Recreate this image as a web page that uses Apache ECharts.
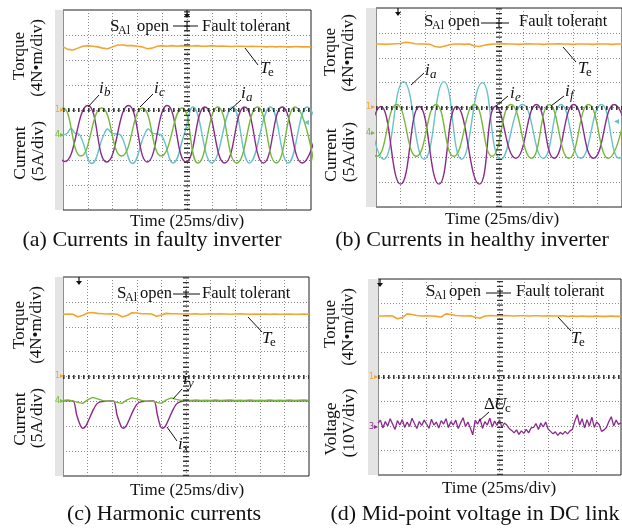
<!DOCTYPE html>
<html>
<head>
<meta charset="utf-8">
<script src="https://cdn.jsdelivr.net/npm/echarts@6/dist/echarts.min.js"></script>
<style>
html,body{margin:0;padding:0;background:#fff;}
#chart{width:622px;height:528px;}
</style>
</head>
<body>
<div id="chart"></div>
<script>
// ---------- scope settings (per division) ----------
const TORQUE_DIV = 4;    // N·m/div
const CURRENT_DIV = 5;   // A/div
const VOLT_DIV = 10;     // V/div
const torqueRef = 0;     // channel 1 ground, div from centre
const currentRef = -1;   // channel 4 ground
const voltRef = -2;      // channel 3 ground
const torqueStep = 5;    // ms between torque samples
const iyStep = 5;
const voltStep = 2.5;

// ---------- (a) faulty inverter ----------
const torqueA = [10.1,9.7,9.6,9.9,10.2,10.3,10.2,10.1,9.9,9.8,
  10.1,10.4,10.4,10.3,10.3,10.2,10.1,9.8,9.9,10.2,
  10.3,10.2,10.3,10.2,10.3,10.2,10.25,10.3,10.2,10.2,
  10.3,10.2,10.25,10.2,10.15,10.2,10.2,10.15,10.2,10.15,
  10.15,10.1,10.15,10.1,10.15,10.1,10.1,10.15,10.1,10.1,10.1];
const faultyIb = [[-18,5.9],[2,-5.3],[25,5.9],[44,-5.4],[66,5.9],[85,-5.4],[105,5.9],[124,-5.4],
  [143,5.6],[163,-5.6],[183,5.6],[202,-5.6],[221,5.6],[241,-5.6],[261,5.6]];
const faultyIc = [[-20,-4.2],[0,5.4],[18,-4.2],[39,5.4],[59,-4.2],[80,5.4],[99,-4.2],[120,5.4],
  [136,-5.6],[156,5.6],[175,-5.6],[196,5.6],[215,-5.6],[234,5.6],[253,-5.6]];
const faultyIa = [[0,0],[4,0.3],[8,1.3],[12,0.4],[17,0],[29,-5.7],[41,0],[45,1.2],[49,0.4],[54,0.2],
  [58,0],[70,-5.7],[82,0],[86,1.2],[90,0.4],[95,0.2],[99,0],[111,-5.6],[122,0],[131,5.6],
  [150,-5.6],[171,5.6],[188,-5.6],[209,5.6],[227,-5.6],[246,5.6],[266,-5.6]];

// ---------- (b) healthy inverter ----------
const torqueB = [10.2,10.2,10.15,10.2,10.25,10.3,10.5,10.4,10.25,10.2,
  10.2,10.15,9.8,9.7,9.9,10.1,10.2,10.2,10.15,10.2,
  9.9,9.8,10.0,10.15,10.2,10.2,10.25,10.2,10.2,10.15,
  10.2,10.25,10.2,10.2,10.15,10.2,10.2,10.25,10.2,10.2,
  10.15,10.2,10.2,10.2,10.15,10.2,10.2,10.2,10.15,10.2,10.2];
const healthyIa = [[-12,10.2],[8,-5.4],[28,10.2],[49,-5.4],[69,10.2],[87,-5.4],[108,10.0],[127,-5.4],
  [149,5.6],[170,-5.2],[188,5.6],[208,-5.2],[229,5.6],[247,-5.2],[266,5.6]];
const healthyIe = [[-15,-10.4],[5,5.2],[25,-10.4],[44,5.2],[64,-10.4],[82,5.2],[105,-10.4],[122,5.3],
  [142,-5.2],[163,5.6],[181,-5.2],[201,5.6],[221,-5.2],[242,5.6],[261,-5.2]];
const healthyIf = [[-19,5.6],[1,-4.8],[21,5.6],[41,-4.8],[61,5.6],[79,-4.8],[100,5.6],[118,-4.8],
  [137,5.6],[158,-5.2],[176,5.6],[196,-5.2],[216,5.6],[236,-5.2],[255,5.6]];

// ---------- (c) harmonic currents ----------
const torqueC = [10.0,10.05,10.0,9.6,9.8,10.2,10.3,10.15,10.1,10.05,
  10.1,10.0,9.6,9.8,10.25,10.2,10.1,10.1,10.05,9.7,
  9.9,10.15,10.1,10.1,10.05,10.1,10.05,10.1,10.0,10.05,
  10.1,10.05,10.1,10.05,10.0,10.05,10.1,10.05,10.0,10.05,
  10.0,10.05,10.0,10.05,10.0,10.0,10.05,10.0,10.0,10.05,10.0];
const harmonicIx = [[0,0.1],[10,0.1],[14,-2.8],[18,-5.0],[20,-5.4],[23,-5.0],[26,-3.8],[30,-2.0],[34,-0.6],[38,-0.1],
  [51,0.1],[55,-2.8],[59,-5.0],[61,-5.4],[64,-5.0],[67,-3.8],[71,-2.0],[75,-0.6],[79,-0.1],
  [92,0.1],[96,-2.8],[99,-5.0],[101,-5.4],[104,-5.0],[107,-3.8],[111,-2.0],[115,-0.6],[119,-0.1],
  [125,0.1],[250,0.1]];
const harmonicIy = [0.2,0.3,0.1,-0.2,-0.4,0.3,0.8,0.5,0.2,0.0,
  0.1,-0.2,-0.4,0.3,0.7,0.5,0.2,0.0,0.1,-0.2,
  -0.4,0.3,0.7,0.4,0.2,0.3,0.2,0.3,0.2,0.25,
  0.2,0.3,0.2,0.25,0.3,0.2,0.25,0.2,0.3,0.2,
  0.25,0.2,0.3,0.2,0.25,0.2,0.3,0.2,0.25,0.3,0.2];

// ---------- (d) mid-point voltage ----------
const torqueD = [9.95,9.95,10.0,9.95,9.5,9.7,10.3,10.2,10.05,9.95,
  10.0,9.95,9.9,9.8,10.3,10.2,10.05,10.0,9.95,10.0,
  9.75,9.6,9.95,10.05,10.0,10.0,10.05,10.0,9.95,10.0,
  10.0,9.95,10.0,10.0,9.95,10.0,9.95,9.95,10.0,9.9,
  9.95,9.9,9.95,9.9,9.9,9.95,9.9,9.9,9.95,9.9,9.9];
const deltaUc = [1.2,2.4,-0.8,1.8,0.0,3.0,0.8,-1.4,2.2,
  0.4,2.6,-0.6,1.6,-0.2,3.2,1.0,-1.0,1.8,
  0.2,2.4,0.8,-1.0,2.8,0.4,1.6,-0.8,2.2,0.8,
  3.0,-0.6,1.8,0.4,2.4,-1.0,1.2,3.4,-0.2,1.6,
  -0.8,-3.6,2.4,0.8,3.0,-1.0,1.8,0.4,3.2,-0.4,
  2.0,0.2,2.6,-0.6,1.2,0.4,-1.0,-1.8,
  -2.8,-1.6,-3.4,-2.0,-3.0,-1.4,-2.8,-0.8,
  -0.6,1.0,-1.4,1.2,-0.4,1.6,-1.2,-2.2,
  -3.2,-2.4,-3.8,-2.6,-3.4,-2.2,-3.2,-2.0,-1.4,2.0,
  4.6,0.4,3.0,-0.8,2.6,0.0,3.6,-0.6,1.6,0.6,
  -2.2,-1.6,-0.6,1.8,3.8,0.0,2.4,0.6,1.4];

// ---------- colours / fonts ----------
const ORANGE = "#f4a431";
const PURPLE = "#8b2a8c";
const GREEN = "#76b83a";
const CYAN = "#68c2c9";
const SERIF = '"Liberation Serif", "Times New Roman", serif';

const panels = [
  {left:63, top:10, width:248, height:200},
  {left:376, top:8, width:246, height:199},
  {left:63, top:277, width:246, height:199},
  {left:378, top:279, width:243, height:196}
];


function toDiv(points, ref, perDiv){
  return points.map(p => [p[0], ref + p[1]/perDiv]);
}

function sampled(values, step, ref, perDiv){
  return values.map((v,i) => [i*step, ref + v/perDiv]);
}

function trace(grid, data, color, smooth, width){
  return {
    type:"line", xAxisIndex:grid, yAxisIndex:grid,
    data:data, showSymbol:false, symbol:"none",
    smooth:smooth, silent:true,
    lineStyle:{color:color, width:width||1.4},
    itemStyle:{color:color}
  };
}

// centre cross of the graticule (with minor ticks)
function centreCross(){
  return {
    silent:true, symbol:["none","none"], label:{show:false},
    data:[
      {xAxis:125, lineStyle:{color:"#333", width:6, type:[1.3,3.4]}},
      {yAxis:0, lineStyle:{color:"#333", width:4, type:[1.6,3.4]}}
    ]
  };
}

const series = [];

// (a)
let s = trace(0, sampled(torqueA, torqueStep, torqueRef, TORQUE_DIV), ORANGE, false, 1.6);
s.markLine = centreCross();
series.push(s);
series.push(trace(0, toDiv(faultyIa, currentRef, CURRENT_DIV), CYAN, 0.45));
series.push(trace(0, toDiv(faultyIb, currentRef, CURRENT_DIV), PURPLE, 0.5));
series.push(trace(0, toDiv(faultyIc, currentRef, CURRENT_DIV), GREEN, 0.5));

// (b)
s = trace(1, sampled(torqueB, torqueStep, torqueRef, TORQUE_DIV), ORANGE, false, 1.6);
s.markLine = centreCross();
series.push(s);
series.push(trace(1, toDiv(healthyIa, currentRef, CURRENT_DIV), CYAN, 0.5));
series.push(trace(1, toDiv(healthyIe, currentRef, CURRENT_DIV), PURPLE, 0.5));
series.push(trace(1, toDiv(healthyIf, currentRef, CURRENT_DIV), GREEN, 0.5));

// (c)
s = trace(2, sampled(torqueC, torqueStep, torqueRef, TORQUE_DIV), ORANGE, false, 1.6);
s.markLine = centreCross();
series.push(s);
series.push(trace(2, toDiv(harmonicIx, currentRef, CURRENT_DIV), PURPLE, 0.3));
series.push(trace(2, sampled(harmonicIy, iyStep, currentRef, CURRENT_DIV), GREEN, false));

// (d)
s = trace(3, sampled(torqueD, torqueStep, torqueRef, TORQUE_DIV), ORANGE, false, 1.6);
s.markLine = centreCross();
series.push(s);
series.push(trace(3, sampled(deltaUc, voltStep, voltRef, VOLT_DIV), PURPLE, false, 1.3));


// ---------- text and furniture ----------
function txt(x, y, text, size, extra){
  const style = Object.assign({
    text:text, fontSize:size, fontFamily:SERIF, fill:"#111",
    align:"left", verticalAlign:"middle"
  }, extra||{});
  return {type:"text", x:x, y:y, style:style, z:50};
}

function vtxt(x, y, text, size){
  return {type:"text", x:x, y:y, rotation:Math.PI/2, z:50,
    style:{text:text, fontSize:size, fontFamily:SERIF, fill:"#111", align:"center", verticalAlign:"middle"}};
}

function seg(x1, y1, x2, y2, color, w){
  return {type:"line", z:50, shape:{x1:x1, y1:y1, x2:x2, y2:y2},
    style:{stroke:color||"#111", lineWidth:w||1}};
}

// symbol with subscript, e.g. T_e, i_a
function sym(x, y, main, sub, subDx, italicSub){
  return [
    txt(x, y, main, 17, {fontStyle:"italic"}),
    txt(x+subDx, y+4, sub, 13, {fontStyle: italicSub ? "italic" : "normal"})
  ];
}

function openNote(xS, base, xOpen, lx1, lx2, tickX, ly, xFault){
  const mid = base - 5.5;
  return [
    txt(xS, mid, "S", 17),
    txt(xS+8, mid+4, "Al", 12),
    txt(xOpen, mid, "open", 16.5),
    seg(lx1, ly, lx2, ly),
    seg(tickX, ly-4, tickX, ly+4),
    txt(xFault, mid, "Fault tolerant", 16.5)
  ];
}

function trigger(x, y){
  return [
    seg(x, y, x, y+7, "#111", 1.2),
    {type:"polygon", z:50, shape:{points:[[x-3,y+4],[x+3,y+4],[x,y+8]]}, style:{fill:"#111"}}
  ];
}

function chMark(x, y, label, color){
  return txt(x, y, label + "\u25B8", 8, {fontFamily:"DejaVu Sans", fill:color});
}

let g = [];

// grey strips left of each screen
g.push({type:"rect", z:1, shape:{x:55, y:10, width:8, height:200}, style:{fill:"#e4e4e4"}});
g.push({type:"rect", z:1, shape:{x:366, y:8, width:10, height:199}, style:{fill:"#e4e4e4"}});
g.push({type:"rect", z:1, shape:{x:55, y:277, width:8, height:199}, style:{fill:"#e4e4e4"}});
g.push({type:"rect", z:1, shape:{x:368, y:279, width:10, height:196}, style:{fill:"#e4e4e4"}});

// channel markers
g.push(chMark(55, 110, "1", ORANGE), chMark(55, 135, "4", GREEN));
g.push(chMark(366, 107, "1", ORANGE), chMark(366, 133, "4", GREEN));
g.push(chMark(55, 376, "1", ORANGE), chMark(55, 401, "4", GREEN));
g.push(chMark(369, 377, "1", ORANGE), chMark(369, 427, "3", PURPLE));
g.push(txt(304, 122, "\u25C2", 10, {fontFamily:"DejaVu Sans", fill:CYAN}));
g.push(txt(614, 121, "\u25C2", 10, {fontFamily:"DejaVu Sans", fill:CYAN}));

// trigger arrows
g = g.concat(trigger(187, 10), trigger(398, 8), trigger(79, 277), trigger(380, 279));

// axis titles
g.push(vtxt(20, 56, "Torque", 17), vtxt(38, 58, "(4N\u2022m/div)", 17));
g.push(vtxt(20, 153, "Current", 17.5), vtxt(38, 151, "(5A/div)", 17.5));
g.push(vtxt(331, 52, "Torque", 17), vtxt(349, 53, "(4N\u2022m/div)", 17));
g.push(vtxt(331, 155, "Current", 17.5), vtxt(349, 152, "(5A/div)", 17.5));
g.push(vtxt(20, 325, "Torque", 17), vtxt(37, 325, "(4N\u2022m/div)", 17));
g.push(vtxt(20, 419, "Current", 17.5), vtxt(37, 418, "(5A/div)", 17.5));
g.push(vtxt(331, 324, "Torque", 17), vtxt(349, 327, "(4N\u2022m/div)", 17));
g.push(vtxt(331, 429, "Voltage", 17.5), vtxt(349, 423, "(10V/div)", 17.5));

// time labels
[[187,222],[502,220],[187,491],[499,489]].forEach(p => {
  g.push(txt(p[0], p[1], "Time (25ms/div)", 17, {align:"center"}));
});

// captions
g.push(txt(152, 240, "(a) Currents in faulty inverter", 22, {align:"center"}));
g.push(txt(472, 240, "(b) Currents in healthy inverter", 22, {align:"center"}));
g.push(txt(164, 514, "(c) Harmonic currents", 22, {align:"center"}));
g.push(txt(475, 514, "(d) Mid-point voltage in DC link", 22, {align:"center"}));

// fault notes
g = g.concat(openNote(110, 32, 137, 173, 198, 187, 26, 202));
g = g.concat(openNote(424, 27.5, 448, 481, 509, 499, 23, 519));
g = g.concat(openNote(117, 299, 140, 173, 200, 186, 294, 202));
g = g.concat(openNote(426, 297, 449, 486, 511, 500, 293, 516));

// T_e labels
g.push(seg(245, 48, 258, 65));
g = g.concat(sym(260, 69, "T", "e", 8, false));
g.push(seg(563, 47, 576, 62));
g = g.concat(sym(578, 69, "T", "e", 8, false));
g.push(seg(248, 317, 262, 332));
g = g.concat(sym(262, 339, "T", "e", 8, false));
g.push(seg(558, 317, 571, 331));
g = g.concat(sym(571, 339, "T", "e", 8, false));

// current labels
g.push(seg(88, 107, 99, 95));
g = g.concat(sym(99, 89, "i", "b", 5, true));
g.push(seg(140, 107, 153, 94));
g = g.concat(sym(154, 89, "i", "c", 5, true));
g.push(seg(230, 110, 241, 100));
g = g.concat(sym(241, 94, "i", "a", 5, true));

g.push(seg(411, 85, 424, 73));
g = g.concat(sym(425, 71, "i", "a", 5, true));
g.push(seg(496, 106, 508, 96));
g = g.concat(sym(510, 94, "i", "e", 5, true));
g.push(seg(551, 106, 564, 96));
g = g.concat(sym(565, 92, "i", "f", 5, true));

g.push(seg(173, 399, 182, 389));
g = g.concat(sym(183, 380, "i", "y", 5, true));
g.push(seg(167, 427, 177, 441));
g = g.concat(sym(178, 445, "i", "x", 5, true));

g.push(seg(479, 421, 489, 412));
g.push(txt(484, 405, "\u0394", 17));
g = g.concat(sym(494, 405, "U", "c", 11, false));


const chart = echarts.init(document.getElementById("chart"), null, {renderer:"canvas"});

chart.setOption({
  animation:false,
  backgroundColor:"#fff",
  grid: panels.map(p => ({
    left:p.left, top:p.top, width:p.width, height:p.height,
    show:true, borderColor:"#222", borderWidth:1, backgroundColor:"#fff"
  })),
  xAxis: panels.map((p,i) => ({
    type:"value", gridIndex:i, min:0, max:250, interval:25,
    axisLine:{show:false}, axisTick:{show:false}, axisLabel:{show:false},
    splitLine:{show:true, lineStyle:{color:"#8a8a8a", width:1, type:[1,2]}}
  })),
  yAxis: panels.map((p,i) => ({
    type:"value", gridIndex:i, min:-4, max:4, interval:1,
    axisLine:{show:false}, axisTick:{show:false}, axisLabel:{show:false},
    splitLine:{show:true, lineStyle:{color:"#8a8a8a", width:1, type:[1,2]}}
  })),
  series: series,
  graphic: g
});
</script>
</body>
</html>
